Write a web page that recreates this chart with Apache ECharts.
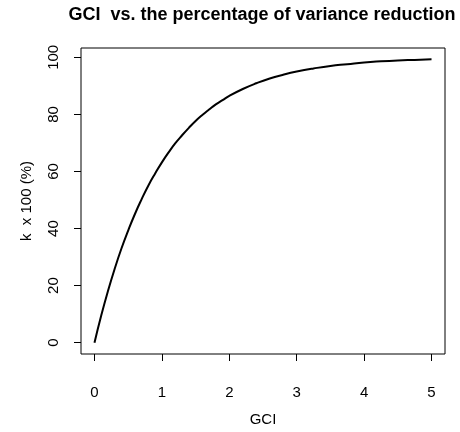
<!DOCTYPE html>
<html>
<head>
<meta charset="utf-8">
<script src="https://cdn.jsdelivr.net/npm/echarts@6/dist/echarts.min.js"></script>
<style>
  html, body { margin: 0; padding: 0; background: #fff; }
  #chart { width: 460px; height: 432px; }
</style>
</head>
<body>
<div id="chart"></div>
<script>
// GCI values and the corresponding percentage of variance reduction (k x 100)
const gci = [0, 0.1, 0.2, 0.3, 0.4, 0.5, 0.6, 0.7, 0.8, 0.9, 1.0,
             1.1, 1.2, 1.3, 1.4, 1.5, 1.6, 1.7, 1.8, 1.9, 2.0,
             2.2, 2.4, 2.6, 2.8, 3.0, 3.25, 3.5, 3.75, 4.0, 4.25, 4.5, 4.75, 5.0];
const reduction = [0, 9.5, 18.1, 25.9, 33.0, 39.3, 45.1, 50.3, 55.1, 59.3, 63.2,
                   66.7, 69.9, 72.7, 75.3, 77.7, 79.8, 81.7, 83.5, 85.0, 86.5,
                   88.9, 90.9, 92.6, 93.9, 95.0, 96.1, 97.0, 97.6, 98.2, 98.6, 98.9, 99.1, 99.3];

const xTicks = [0, 1, 2, 3, 4, 5];
const yTicks = [0, 20, 40, 60, 80, 100];

// Axis ranges padded by 4% of the data range on each side
function padded(arr) {
  const lo = Math.min(...arr), hi = Math.max(...arr);
  const pad = (hi - lo) * 0.04;
  return [lo - pad, hi + pad];
}
const [xMin, xMax] = padded(gci);
const [yMin, yMax] = padded(reduction);

const FONT = '"Liberation Sans", Arial, Helvetica, sans-serif';

const chart = echarts.init(document.getElementById('chart'), null, { renderer: 'canvas' });
chart.setOption({
  animation: false,
  backgroundColor: '#ffffff',
  title: {
    text: 'GCI  vs. the percentage of variance reduction',
    left: 257,
    top: 1,
    textAlign: 'center',
    textStyle: { fontFamily: FONT, fontSize: 18, fontWeight: 'bold', color: '#000' }
  },
  grid: {
    left: 81, right: 15, top: 48, bottom: 78,
    show: true, borderColor: '#000', borderWidth: 1, backgroundColor: 'transparent'
  },
  xAxis: {
    type: 'value',
    min: xMin, max: xMax,
    name: 'GCI',
    nameLocation: 'middle',
    nameGap: 58,
    nameTextStyle: { fontFamily: FONT, fontSize: 15, color: '#000' },
    axisLine: { show: false, onZero: false },
    splitLine: { show: false },
    axisTick: { show: true, inside: false, length: 7, customValues: xTicks, lineStyle: { color: '#000', width: 1 } },
    axisLabel: { customValues: xTicks, margin: 31, fontFamily: FONT, fontSize: 15, color: '#000' }
  },
  yAxis: {
    type: 'value',
    min: yMin, max: yMax,
    name: 'k  x 100 (%)',
    nameLocation: 'middle',
    nameGap: 47,
    nameRotate: 90,
    nameTextStyle: { fontFamily: FONT, fontSize: 15, color: '#000' },
    axisLine: { show: false, onZero: false },
    splitLine: { show: false },
    axisTick: { show: true, inside: false, length: 7, customValues: yTicks, lineStyle: { color: '#000', width: 1 } },
    axisLabel: { customValues: yTicks, rotate: 90, margin: 20, fontFamily: FONT, fontSize: 15, color: '#000' }
  },
  series: [{
    type: 'line',
    data: gci.map((x, i) => [x, reduction[i]]),
    showSymbol: false,
    smooth: true,
    lineStyle: { color: '#000', width: 2 }
  }]
});
</script>
</body>
</html>
